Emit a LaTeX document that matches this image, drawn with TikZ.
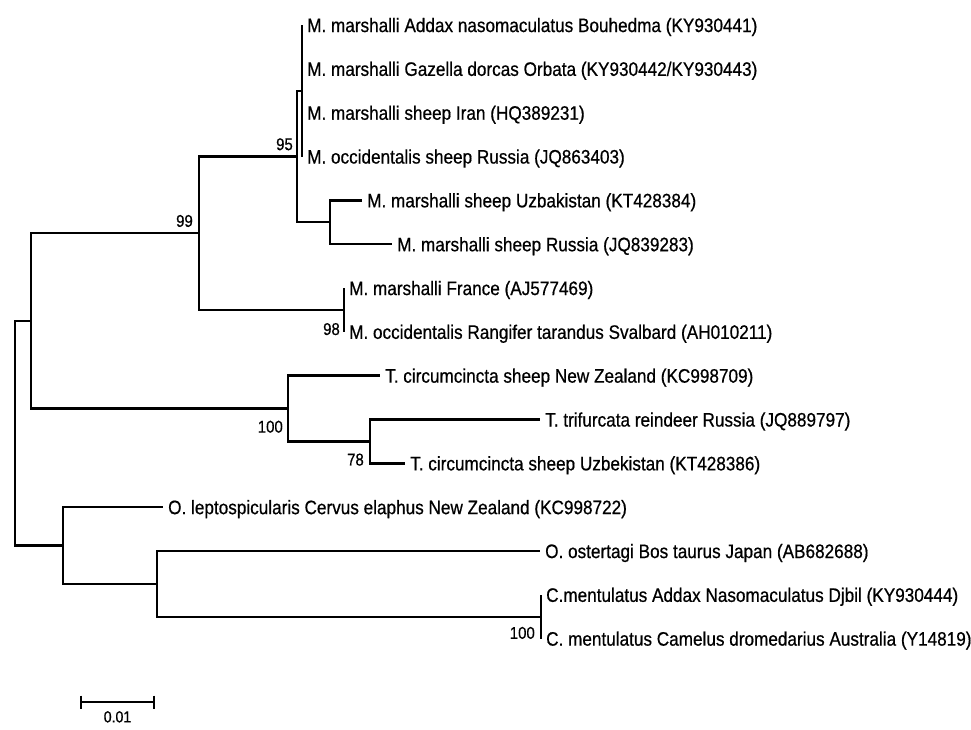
\documentclass[tikz,border=0pt]{standalone}
\usepackage{fontspec}
\setmainfont{Liberation Sans}[FakeStretch=0.88, FakeBold=0.6]
\usetikzlibrary{positioning}
\begin{document}
\begin{tikzpicture}[x=1pt, y=-1pt,
    branch/.style={line width=2.4pt},
    flat/.style={line width=1.5pt},
    taxon/.style={anchor=west, inner sep=0pt, yshift=-2pt, font=\fontsize{19.5}{20}\selectfont},
    boot/.style={inner sep=0pt, font=\fontsize{17}{17}\selectfont}]
        \useasboundingbox (0,0) rectangle (971,729);
        % internal nodes
        \coordinate (root) at (15,433.2);
        \coordinate (nA) at (31,320.85);
        \coordinate (n99) at (199,233.2);
        \coordinate (n95) at (297,156.5);
        \coordinate (nMar) at (302,90.75);
        \coordinate (nUzb) at (330,222.25);
        \coordinate (nFra) at (344,309.9);
        \coordinate (nT) at (288,408.5);
        \coordinate (n78) at (370,441.4);
        \coordinate (nO) at (63,545.5);
        \coordinate (nB) at (157,583.85);
        \coordinate (nC) at (541,616.7);
        % tip ends
        \coordinate (e0) at (302,25);
        \coordinate (e1) at (302,68.8);
        \coordinate (e2) at (302,112.7);
        \coordinate (e3) at (302,156.5);
        \coordinate (e4) at (362,200.3);
        \coordinate (e5) at (392,244.2);
        \coordinate (e6) at (344,288);
        \coordinate (e7) at (344,331.8);
        \coordinate (e8) at (380,375.6);
        \coordinate (e9) at (540,419.5);
        \coordinate (e10) at (405,463.3);
        \coordinate (e11) at (163,507.1);
        \coordinate (e12) at (540,551);
        \coordinate (e13) at (541,594.8);
        \coordinate (e14) at (541,638.6);
        % branches
        \draw[branch] (root) |- (nA);
        \draw[branch] (root) |- (nO);
        \draw[branch] (nA) |- (n99);
        \draw[branch] (nA) |- (nT);
        \draw[branch] (n99) |- (n95);
        \draw[branch] (n99) |- (nFra);
        \draw[branch] (n95) |- (nMar);
        \draw[branch] (n95) |- (nUzb);
        \draw[flat] (nMar) |- (e0);
        \draw[flat] (nMar) |- (e3);
        \draw[branch] (nUzb) |- (e4);
        \draw[branch] (nUzb) |- (e5);
        \draw[flat] (nFra) |- (e6);
        \draw[flat] (nFra) |- (e7);
        \draw[branch] (nT) |- (e8);
        \draw[branch] (nT) |- (n78);
        \draw[branch] (n78) |- (e9);
        \draw[branch] (n78) |- (e10);
        \draw[branch] (nO) |- (e11);
        \draw[branch] (nO) |- (nB);
        \draw[branch] (nB) |- (e12);
        \draw[branch] (nB) |- (nC);
        \draw[flat] (nC) |- (e13);
        \draw[flat] (nC) |- (e14);
        % taxa
        \node [taxon, right=5pt of e0] (t0) {M. marshalli Addax nasomaculatus Bouhedma (KY930441)};
        \node [taxon, right=5pt of e1] (t1) {M. marshalli Gazella dorcas Orbata (KY930442/KY930443)};
        \node [taxon, right=5pt of e2] (t2) {M. marshalli sheep Iran (HQ389231)};
        \node [taxon, right=5pt of e3] (t3) {M. occidentalis sheep Russia (JQ863403)};
        \node [taxon, right=5pt of e4] (t4) {M. marshalli sheep Uzbakistan (KT428384)};
        \node [taxon, right=5pt of e5] (t5) {M. marshalli sheep Russia (JQ839283)};
        \node [taxon, right=5pt of e6] (t6) {M. marshalli France (AJ577469)};
        \node [taxon, right=5pt of e7] (t7) {M. occidentalis Rangifer tarandus Svalbard (AH010211)};
        \node [taxon, right=5pt of e8] (t8) {T. circumcincta sheep New Zealand (KC998709)};
        \node [taxon, right=5pt of e9] (t9) {T. trifurcata reindeer Russia (JQ889797)};
        \node [taxon, right=5pt of e10] (t10) {T. circumcincta sheep Uzbekistan (KT428386)};
        \node [taxon, right=5pt of e11] (t11) {O. leptospicularis Cervus elaphus New Zealand (KC998722)};
        \node [taxon, right=5pt of e12] (t12) {O. ostertagi Bos taurus Japan (AB682688)};
        \node [taxon, right=5pt of e13] (t13) {C.mentulatus Addax Nasomaculatus Djbil (KY930444)};
        \node [taxon, right=5pt of e14] (t14) {C. mentulatus Camelus dromedarius Australia (Y14819)};
        % bootstrap values
        \node [boot, above left=6pt and 4pt of n95] (b95) {95};
        \node [boot, above left=6pt and 6pt of n99] (b99) {99};
        \node [boot, below left=13pt and 4pt of nFra] (b98) {98};
        \node [boot, below left=12pt and 5pt of nT] (b100t) {100};
        \node [boot, below left=12pt and 6pt of n78] (b78) {78};
        \node [boot, below left=10pt and 6pt of nC] (b100c) {100};
        % scale bar
        \coordinate (sb1) at (81,702);
        \coordinate (sb2) at (154,702);
        \coordinate (sbmid) at (117.5,702);
        \draw[branch] (sb1) -- (sb2);
        \draw[branch] ([yshift=6.5pt]sb1) -- ([yshift=-6.5pt]sb1);
        \draw[branch] ([yshift=6.5pt]sb2) -- ([yshift=-6.5pt]sb2);
        \node [inner sep=0pt, font=\fontsize{16}{16}\selectfont, below=9pt of sbmid] (sblabel) {0.01};
    \end{tikzpicture}
\end{document}
